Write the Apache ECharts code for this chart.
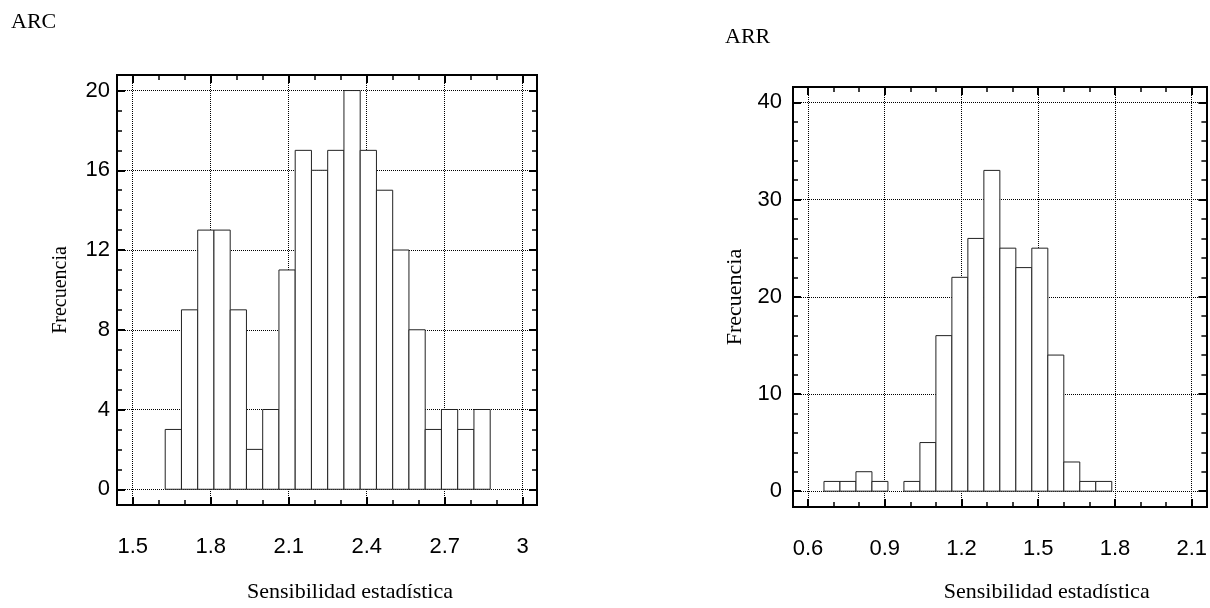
<!DOCTYPE html>
<html>
<head>
<meta charset="utf-8">
<script src="https://cdn.jsdelivr.net/npm/echarts@6/dist/echarts.min.js"></script>
<style>
html,body{margin:0;padding:0;background:#fff;}
#c{width:1210px;height:608px;}
</style>
</head>
<body>
<div id="c"></div>
<script>
// ---------- ARC histogram ----------
const arcBinStart = 1.625;
const arcBinWidth = 0.0625;
const arcCounts = [3, 9, 13, 13, 9, 2, 4, 11, 17, 16, 17, 20, 17, 15, 12, 8, 3, 4, 3, 4];
const arcXTicks = [1.5, 1.8, 2.1, 2.4, 2.7, 3.0];
const arcXMinorTicks = [1.5, 1.6, 1.7, 1.8, 1.9, 2.0, 2.1, 2.2, 2.3, 2.4, 2.5, 2.6, 2.7, 2.8, 2.9, 3.0];
const arcYTicks = [0, 4, 8, 12, 16, 20];
const arcYMinorTicks = [0, 1, 2, 3, 4, 5, 6, 7, 8, 9, 10, 11, 12, 13, 14, 15, 16, 17, 18, 19, 20];
const arcXRange = [1.4396, 3.055];
const arcYRange = [-0.79, 20.78];

// ---------- ARR histogram ----------
const arrBinStart = 0.6625;
const arrBinWidth = 0.0625;
const arrCounts = [1, 1, 2, 1, 0, 1, 5, 16, 22, 26, 33, 25, 23, 25, 14, 3, 1, 1];
const arrXTicks = [0.6, 0.9, 1.2, 1.5, 1.8, 2.1];
const arrXMinorTicks = [0.6, 0.7, 0.8, 0.9, 1.0, 1.1, 1.2, 1.3, 1.4, 1.5, 1.6, 1.7, 1.8, 1.9, 2.0, 2.1];
const arrYTicks = [0, 10, 20, 30, 40];
const arrYMinorTicks = [0, 2, 4, 6, 8, 10, 12, 14, 16, 18, 20, 22, 24, 26, 28, 30, 32, 34, 36, 38, 40];
const arrXRange = [0.5414, 2.1574];
const arrYRange = [-1.63, 41.58];

const xTitle = 'Sensibilidad estadística';
const yTitle = 'Frecuencia';

function bins(start, width, counts) {
  return counts.map((c, i) => [start + i * width, start + (i + 1) * width, c]);
}

const fmt = v => String(Math.round(v * 10) / 10);
const serif = "'Liberation Serif', 'Times New Roman', serif";
const sans = "'Liberation Sans', Arial, sans-serif";

function frameLine() { return { show: true, onZero: false, lineStyle: { color: '#000', width: 2, cap: 'square' } }; }
const noLine = { show: false, onZero: false };
function majorTick(vals) { return { show: true, inside: true, length: 8, customValues: vals, lineStyle: { color: '#000', width: 2 } }; }
function minorTick(vals) { return { show: true, inside: true, length: 5, customValues: vals, lineStyle: { color: '#000', width: 1.5 } }; }

function xAxes(grid, range, major, minor, nameGap, namePad, labelMargin) {
  const base = { gridIndex: grid, type: 'value', min: range[0], max: range[1] };
  return [
    Object.assign({}, base, {
      position: 'bottom',
      axisLine: frameLine(),
      axisTick: majorTick(major),
      axisLabel: { show: true, customValues: major, formatter: fmt, margin: labelMargin, color: '#000', fontSize: 22, fontFamily: sans },
      splitLine: { show: true, lineStyle: { color: '#000', width: 1, type: [1, 1] } },
      name: xTitle, nameLocation: 'middle', nameGap: nameGap,
      nameTextStyle: { fontFamily: serif, fontSize: 22, color: '#000', padding: [0, 0, 0, namePad] }
    }),
    Object.assign({}, base, {
      position: 'bottom', axisLine: noLine, axisTick: minorTick(minor),
      axisLabel: { show: false }, splitLine: { show: false }
    }),
    Object.assign({}, base, {
      position: 'top', axisLine: frameLine(), axisTick: majorTick(major),
      axisLabel: { show: false }, splitLine: { show: false }
    }),
    Object.assign({}, base, {
      position: 'top', axisLine: noLine, axisTick: minorTick(minor),
      axisLabel: { show: false }, splitLine: { show: false }
    })
  ];
}

function yAxes(grid, range, major, minor, nameGap, nameSize, labelMargin) {
  const base = { gridIndex: grid, type: 'value', min: range[0], max: range[1] };
  return [
    Object.assign({}, base, {
      position: 'left',
      axisLine: frameLine(),
      axisTick: majorTick(major),
      axisLabel: { show: true, customValues: major, formatter: fmt, margin: labelMargin, color: '#000', fontSize: 22, fontFamily: sans },
      splitLine: { show: true, lineStyle: { color: '#000', width: 1, type: [1, 1] } },
      name: yTitle, nameLocation: 'middle', nameGap: nameGap, nameRotate: 90,
      nameTextStyle: { fontFamily: serif, fontSize: nameSize, color: '#000' }
    }),
    Object.assign({}, base, {
      position: 'left', axisLine: noLine, axisTick: minorTick(minor),
      axisLabel: { show: false }, splitLine: { show: false }
    }),
    Object.assign({}, base, {
      position: 'right', axisLine: frameLine(), axisTick: majorTick(major),
      axisLabel: { show: false }, splitLine: { show: false }
    }),
    Object.assign({}, base, {
      position: 'right', axisLine: noLine, axisTick: minorTick(minor),
      axisLabel: { show: false }, splitLine: { show: false }
    })
  ];
}

function renderBin(params, api) {
  const n = api.value(2);
  if (!n) return null;
  const p0 = api.coord([api.value(0), n]);
  const p1 = api.coord([api.value(1), 0]);
  return {
    type: 'rect',
    shape: { x: p0[0], y: p0[1], width: p1[0] - p0[0], height: p1[1] - p0[1] },
    style: { fill: '#fff', stroke: '#222', lineWidth: 1 }
  };
}

const chart = echarts.init(document.getElementById('c'), null, { renderer: 'canvas' });
chart.setOption({
  animation: false,
  backgroundColor: '#fff',
  title: [
    { text: 'ARC', left: 11, top: 11, padding: 0, textStyle: { fontFamily: serif, fontSize: 22, fontWeight: 'normal', color: '#000' } },
    { text: 'ARR', left: 725, top: 26, padding: 0, textStyle: { fontFamily: serif, fontSize: 22, fontWeight: 'normal', color: '#000' } }
  ],
  grid: [
    { left: 117, top: 75, width: 420, height: 430, containLabel: false },
    { left: 793, top: 87, width: 414, height: 423, containLabel: false }
  ],
  xAxis: [].concat(
    xAxes(0, arcXRange, arcXTicks, arcXMinorTicks, 76, 46, 31),
    xAxes(1, arrXRange, arrXTicks, arrXMinorTicks, 74, 94, 31)
  ),
  yAxis: [].concat(
    yAxes(0, arcYRange, arcYTicks, arcYMinorTicks, 46, 20, 7),
    yAxes(1, arrYRange, arrYTicks, arrYMinorTicks, 47, 22, 11)
  ),
  series: [
    {
      type: 'custom', name: 'ARC', xAxisIndex: 0, yAxisIndex: 0,
      renderItem: renderBin, encode: { x: [0, 1], y: 2 },
      data: bins(arcBinStart, arcBinWidth, arcCounts)
    },
    {
      type: 'custom', name: 'ARR', xAxisIndex: 4, yAxisIndex: 4,
      renderItem: renderBin, encode: { x: [0, 1], y: 2 },
      data: bins(arrBinStart, arrBinWidth, arrCounts)
    }
  ]
});
</script>
</body>
</html>
